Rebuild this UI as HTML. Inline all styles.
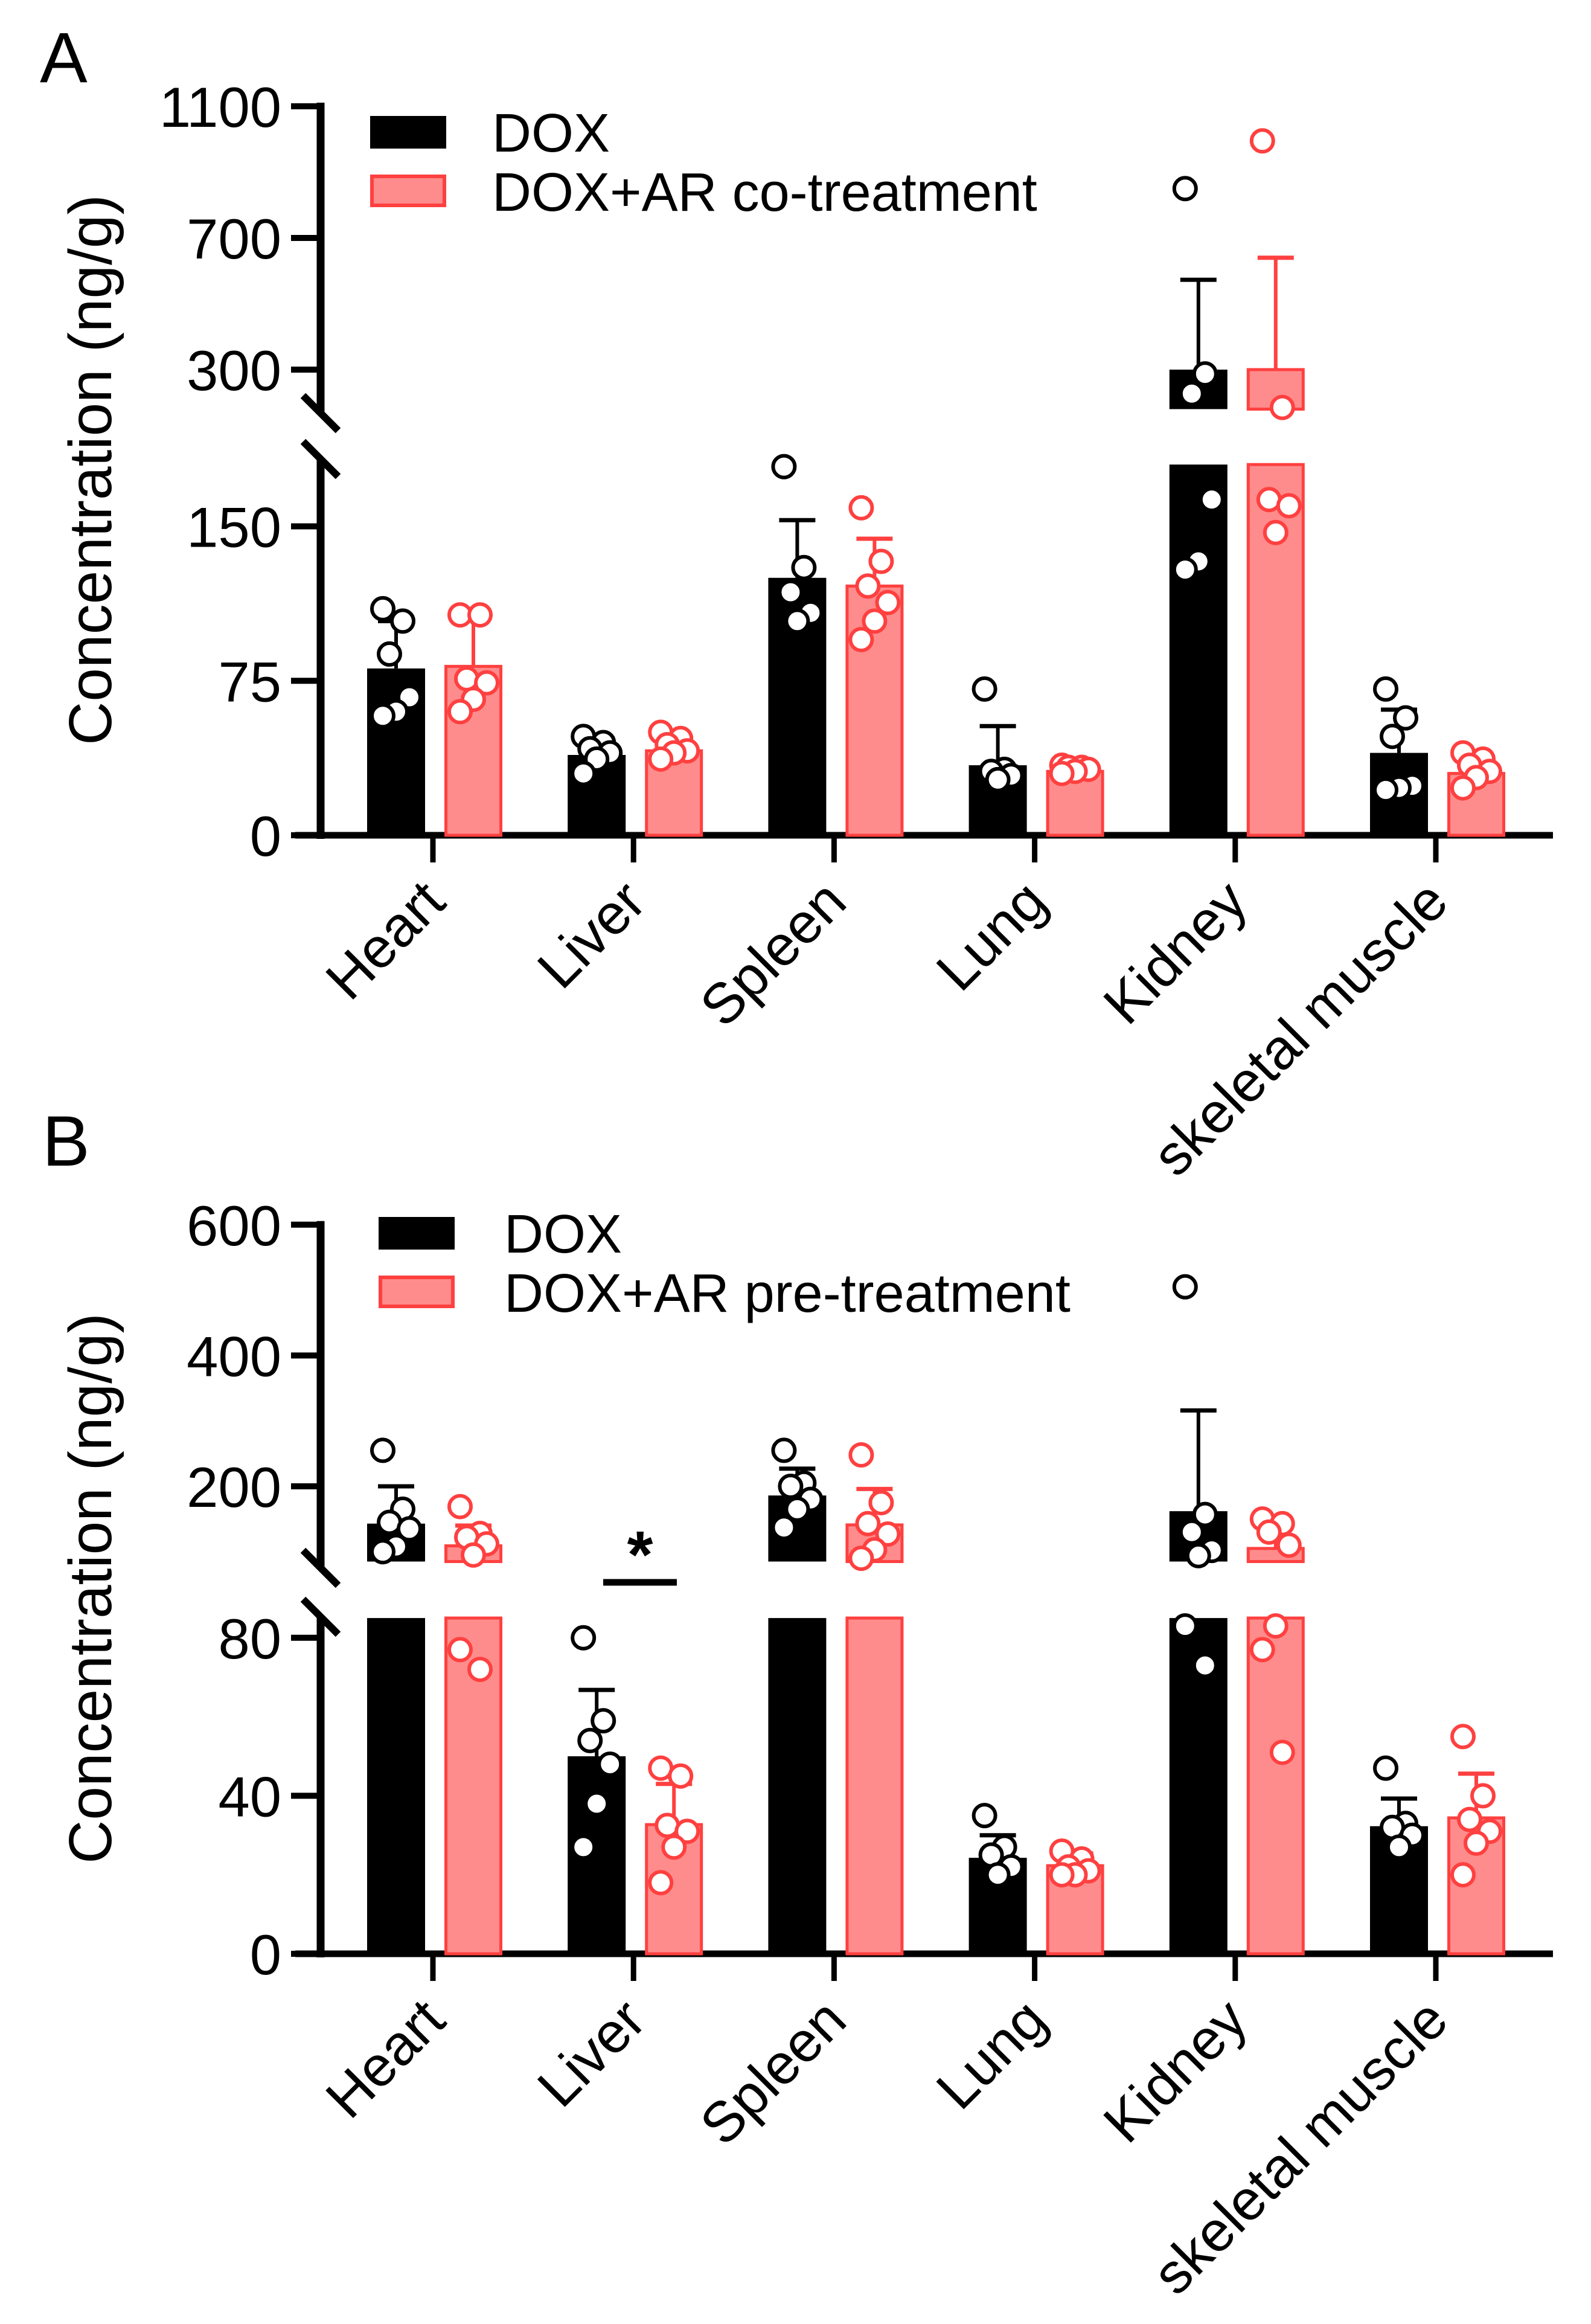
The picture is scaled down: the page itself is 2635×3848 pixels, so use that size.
<!DOCTYPE html>
<html><head><meta charset="utf-8">
<style>
html,body{margin:0;padding:0;background:#fff;}
svg{display:block;font-family:"Liberation Sans",Arial,sans-serif;}
</style></head>
<body>
<svg id="fig" width="2635" height="3848" viewBox="0 0 2635 3848" xmlns="http://www.w3.org/2000/svg">
<rect x="0" y="0" width="2635" height="3848" fill="#fff"/>
<g id="panelA"></g>
<g id="panelB"></g>
</svg>
<script>
const categories = ["Heart","Liver","Spleen","Lung","Kidney","skeletal muscle"];

// Panel A data
const aDoxMean = [81, 39, 125, 34, 300, 40];
const aDoxErr  = [104, 47, 153, 53, 573, 61];
const aArMean  = [82, 41, 121, 31, 300, 30];
const aArErr   = [108, 47, 144, 36, 640, 36];
const aDoxPts = [[110,104,88,67,60,58],[48,45,42,40,37,30],[179,130,118,108,104],[71,32,31,29,27],[850,287,227,163,133,129],[71,57,48,24,23,22]];
const aArPts  = [[107,107,76,74,66,60],[50,47,44,41,40,37],[159,133,121,113,104,95],[34,33,33,32,31,30],[995,185,163,160,147],[40,37,34,31,28,23]];
const aUpperTicks = [300, 700, 1100];
const aLowerTicks = [0, 75, 150];

// Panel B data
const bDoxMean = [143, 50, 186, 24.3, 162, 32.3];
const bDoxErr  = [200, 66.8, 227, 30, 316, 39.3];
const bArMean  = [109, 32.7, 141, 22.3, 105, 34.4];
const bArErr   = [140, 43, 196, 25.4, 140, 45.6];
const bDoxPts = [[255,165,145,135,108,100],[80,59,54,48,38,27],[255,205,200,180,165,137],[35,27,25,22,20],[505,157,130,102,94,83,73],[47,33,32,30,27]];
const bArPts  = [[169,128,122,112,95,77,72],[47,45,32.5,31,27,18],[248,175,143,127,103,90],[26,24,22,21,20,20],[150,143,130,110,83,77,51],[55,40,34,31,28,20]];
const bUpperTicks = [200, 400, 600];
const bLowerTicks = [0, 40, 80];

const NS = "http://www.w3.org/2000/svg";
function mk(parent, tag, attrs){
  const e = document.createElementNS(NS, tag);
  for (const k in attrs) e.setAttribute(k, attrs[k]);
  parent.appendChild(e);
  return e;
}
const BLACK = "#000", PINK = "#FF8C8C", RED = "#FF4040";

function drawPanel(g, cfg){
  const axisX = 531, base = cfg.base;
  const lowerY = v => base - v * cfg.lowerK;
  const upperY = v => cfg.upperRefY - (v - cfg.upperRef) * cfg.upperK;
  const Y = v => v >= cfg.brk ? upperY(v) : lowerY(v);
  const tickX = i => 717 + i * 332.2;

  const letter = mk(g, "text", {x: cfg.letterX, y: cfg.letterY, "font-size": 118, fill: "#000"});
  letter.textContent = cfg.letter;
  
  

  const yt = mk(g, "text", {x: 0, y: 0, "font-size": 100, "text-anchor": "middle", transform: `translate(184 ${cfg.titleY}) rotate(-90)`});
  yt.textContent = "Concentration (ng/g)";
  
  

  const yu = mk(g, "line", {x1: axisX, y1: upperY(cfg.upperTicks[cfg.upperTicks.length-1]) - 6, x2: axisX, y2: cfg.upEnd, stroke: "#000", "stroke-width": 13});
  
  
  const yl = mk(g, "line", {x1: axisX, y1: cfg.lowStart, x2: axisX, y2: base + 6, stroke: "#000", "stroke-width": 13});
  
  
  [cfg.upEnd, cfg.lowStart].forEach(cy => {
    const b = mk(g, "line", {x1: 502, y1: cy - 29, x2: 560, y2: cy + 29, stroke: "#000", "stroke-width": 12});
    
    
  });

  const allTicks = cfg.upperTicks.map(v => [v, upperY(v)]).concat(cfg.lowerTicks.map(v => [v, lowerY(v)]));
  allTicks.forEach(([v, y]) => {
    const t = mk(g, "line", {x1: 482, y1: y, x2: axisX, y2: y, stroke: "#000", "stroke-width": 10});
    
    
    const l = mk(g, "text", {x: 466, y: y + 34, "font-size": 94, "text-anchor": "end"});
    l.textContent = v;
    
    
  });

  const xa = mk(g, "line", {x1: 489, y1: base, x2: 2572, y2: base, stroke: "#000", "stroke-width": 11});
  
  

  const series = [
    {mean: cfg.doxMean, err: cfg.doxErr, pts: cfg.doxPts, off: -61, fill: BLACK, stroke: BLACK, name: "dox"},
    {mean: cfg.arMean, err: cfg.arErr, pts: cfg.arPts, off: 67, fill: PINK, stroke: RED, name: "ar"}
  ];
  const bw = 96;
  categories.forEach((cat, i) => {
    const tx = tickX(i);
    const tk = mk(g, "line", {x1: tx, y1: base, x2: tx, y2: base + 45, stroke: "#000", "stroke-width": 9});
    
    
    const lab = mk(g, "text", {x: 0, y: 0, "font-size": 94, "text-anchor": "end", transform: `translate(${tx + 25} ${base + 115}) rotate(-45)`});
    lab.textContent = cat;
    
    

    series.forEach(s => {
      const cx = tx + s.off;
      const m = s.mean[i];
      const sw = s.fill === BLACK ? 0 : 5;
      const eTop = Y(s.err[i]);
      const el = mk(g, "line", {x1: cx, y1: Y(m), x2: cx, y2: eTop, stroke: s.stroke, "stroke-width": 6});
      
      
      const ec = mk(g, "line", {x1: cx - 30, y1: eTop, x2: cx + 30, y2: eTop, stroke: s.stroke, "stroke-width": 7});
      
      
      if (m >= cfg.brk) {
        const r1 = mk(g, "rect", {x: cx - bw/2 + sw/2, y: lowerY(cfg.brk), width: bw - sw, height: base - lowerY(cfg.brk), fill: s.fill, stroke: s.stroke, "stroke-width": sw});
        
        
        const r2 = mk(g, "rect", {x: cx - bw/2 + sw/2, y: upperY(m), width: bw - sw, height: upperY(cfg.brk) - upperY(m), fill: s.fill, stroke: s.stroke, "stroke-width": sw});
        
        
      } else {
        const r = mk(g, "rect", {x: cx - bw/2 + sw/2, y: lowerY(m), width: bw - sw, height: base - lowerY(m), fill: s.fill, stroke: s.stroke, "stroke-width": sw});
        
        
      }
      s.pts[i].forEach((v, j) => {
        const jit = ((j * 3) % 5 - 2) * 11;
        const c = mk(g, "circle", {cx: cx + jit, cy: Y(v), r: 18, fill: "#fff", stroke: s.stroke, "stroke-width": 6});
        
        
      });
    });
  });

  const lr1 = mk(g, "rect", {x: cfg.legX, y: cfg.legY, width: 126, height: 54, fill: BLACK});
  
  
  const lr2 = mk(g, "rect", {x: cfg.legX + 3, y: cfg.legY + 100, width: 120, height: 48, fill: PINK, stroke: RED, "stroke-width": 6});
  
  
  const lt1 = mk(g, "text", {x: cfg.legTextX, y: cfg.legY + 59, "font-size": 90});
  lt1.textContent = "DOX";
  
  
  const lt2 = mk(g, "text", {x: cfg.legTextX, y: cfg.legY + 157, "font-size": 90});
  lt2.textContent = cfg.arLabel;
  
  
}

drawPanel(document.getElementById("panelA"), {
  letter: "A", letterX: 66, letterY: 136, titleY: 778,
  base: 1383, lowerK: 3.41, upperRef: 300, upperRefY: 612, upperK: 0.545, brk: 180,
  upEnd: 684, lowStart: 760,
  upperTicks: aUpperTicks, lowerTicks: aLowerTicks,
  doxMean: aDoxMean, doxErr: aDoxErr, arMean: aArMean, arErr: aArErr, doxPts: aDoxPts, arPts: aArPts,
  legX: 613, legY: 192, legTextX: 815, arLabel: "DOX+AR co-treatment"
});
drawPanel(document.getElementById("panelB"), {
  letter: "B", letterX: 70, letterY: 1930, titleY: 2630,
  base: 3235, lowerK: 6.54, upperRef: 200, upperRefY: 2461, upperK: 1.083, brk: 85,
  upEnd: 2596, lowStart: 2677,
  upperTicks: bUpperTicks, lowerTicks: bLowerTicks,
  doxMean: bDoxMean, doxErr: bDoxErr, arMean: bArMean, arErr: bArErr, doxPts: bDoxPts, arPts: bArPts,
  legX: 627, legY: 2015, legTextX: 835, arLabel: "DOX+AR pre-treatment"
});

const gB = document.getElementById("panelB");
const sigLine = document.createElementNS(NS, "line");
sigLine.setAttribute("x1", 999); sigLine.setAttribute("y1", 2620);
sigLine.setAttribute("x2", 1121); sigLine.setAttribute("y2", 2620);
sigLine.setAttribute("stroke", "#000"); sigLine.setAttribute("stroke-width", 11);


gB.appendChild(sigLine);
const star = document.createElementNS(NS, "text");
star.setAttribute("x", 1060); star.setAttribute("y", 2612);
star.setAttribute("font-size", 110); star.setAttribute("font-weight", "bold");
star.setAttribute("text-anchor", "middle");
star.textContent = "*";


gB.appendChild(star);
</script>
</body></html>
